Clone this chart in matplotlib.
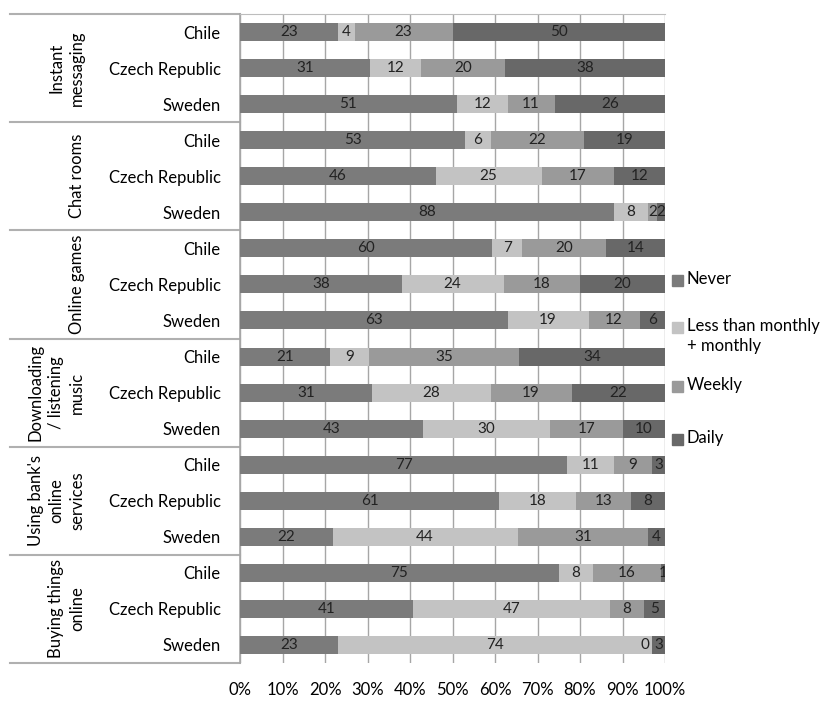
import numpy as np
import matplotlib.pyplot as plt
from matplotlib.patches import Rectangle

plt.rcParams['font.family'] = ['Lato', 'DejaVu Sans']

groups = ["Instant\nmessaging", "Chat rooms", "Online games",
          "Downloading\n/ listening\nmusic", "Using bank's\nonline\nservices",
          "Buying things\nonline"]
countries = ["Chile", "Czech Republic", "Sweden"]
series = ["Never", "Less than monthly\n+ monthly", "Weekly", "Daily"]

never = [23, 31, 51, 53, 46, 88, 60, 38, 63, 21, 31, 43, 77, 61, 22, 75, 41, 23]
monthly = [4, 12, 12, 6, 25, 8, 7, 24, 19, 9, 28, 30, 11, 18, 44, 8, 47, 74]
weekly = [23, 20, 11, 22, 17, 2, 20, 18, 12, 35, 19, 17, 9, 13, 31, 16, 8, 0]
daily = [50, 38, 26, 19, 12, 2, 14, 20, 6, 34, 22, 10, 3, 8, 4, 1, 5, 3]

colors = ["#7b7b7b", "#c3c3c3", "#9a9a9a", "#686868"]

fig = plt.figure(figsize=(8.26, 7.02), dpi=100)
ax = fig.add_axes([240 / 826, 1 - 663 / 702, 425 / 826, 649 / 702])

data = np.array([never, monthly, weekly, daily], dtype=float)
# 100% stacked: each row scaled to its own total
share = data / data.sum(axis=0) * 100
rows = np.arange(data.shape[1])
left = np.zeros(len(rows))

for k in range(len(series)):
    w = share[k]
    ax.barh(rows, w, height=0.5, left=left, color=colors[k], zorder=3)
    for r, v in enumerate(data[k]):
        cx = left[r] + w[r] / 2
        ha = 'center'
        if v == 0:
            cx = left[r] - 0.7
            ha = 'right'
        ax.text(cx, r, '%d' % v, ha=ha, va='center', fontsize=11,
                color='#222222', zorder=4, clip_on=True)
    left = left + w

ax.set_xlim(0, 100)
ax.set_ylim(len(rows) - 0.5, -0.5)
ax.set_xticks(np.arange(0, 101, 10))
ax.set_xticklabels(['%d%%' % t for t in range(0, 101, 10)], fontsize=12)
ax.tick_params(axis='x', length=0, pad=14)
ax.set_yticks(rows)
ax.set_yticklabels(countries * len(groups), fontsize=12)
ax.tick_params(axis='y', length=0, pad=14)
ax.grid(axis='x', color='#a6a6a6', linewidth=1.0, zorder=0)

for side in ['right', 'bottom']:
    ax.spines[side].set_visible(False)
ax.spines['top'].set_color('#bdbdbd')
ax.spines['left'].set_color('#a6a6a6')
ax.spines['left'].set_linewidth(1.2)

# group boxes on the category side
trans = ax.get_yaxis_transform()
x_far = -230 / 425
for g in range(len(groups) + 1):
    yb = g * 3 - 0.5
    ax.plot([x_far, 0], [yb, yb], color='#b0b0b0', linewidth=1.5,
            transform=trans, clip_on=False)
for g, name in enumerate(groups):
    ax.text(-155 / 425, g * 3 + 1, name, transform=trans, rotation=90,
            ha='right', va='center', multialignment='center', fontsize=12,
            linespacing=1.35)

# legend drawn beside the plot
leg_y = [280, 327, 386, 439]
for k, name in enumerate(series):
    y = 1 - leg_y[k] / 702
    fig.add_artist(Rectangle((672 / 826, y - 5.5 / 702), 11 / 826, 11 / 702,
                             transform=fig.transFigure, color=colors[k]))
    fig.text(687 / 826, y + 9 / 702, name, ha='left', va='top',
             fontsize=12, linespacing=1.3)

fig.savefig('out.png', dpi=100)
